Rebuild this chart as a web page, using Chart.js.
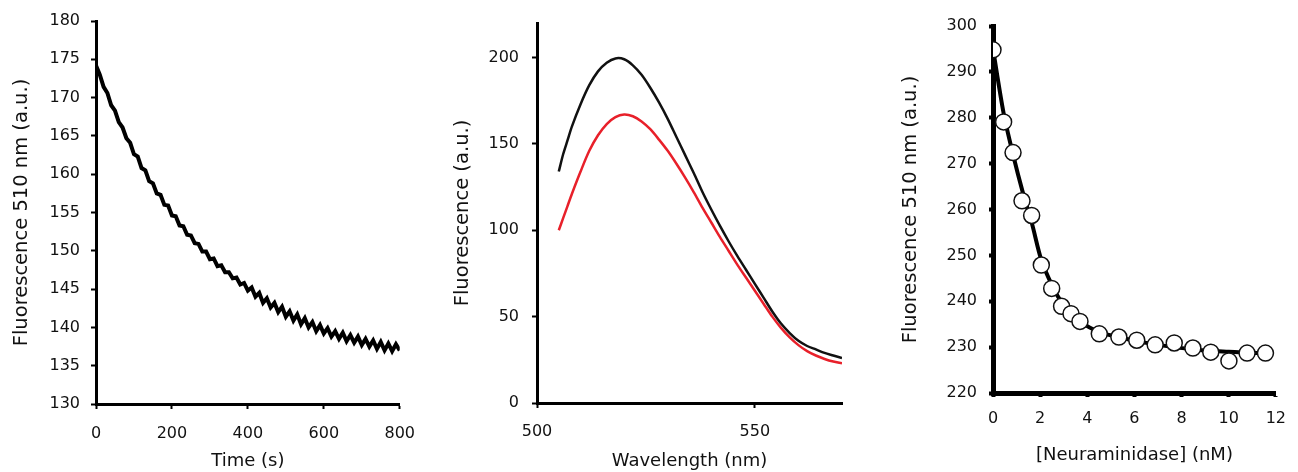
<!DOCTYPE html>
<html>
<head>
<meta charset="utf-8">
<script src="https://cdn.jsdelivr.net/npm/chart.js"></script>
<style>
body {margin:0; background:#fff; width:1298px; height:472px; position:relative; overflow:hidden}
canvas {position:absolute; top:0}
</style>
</head>
<body>
<canvas id="graf1" width="430" height="472" style="left:0px"></canvas>
<canvas id="graf2" width="440" height="472" style="left:430px"></canvas>
<canvas id="graf3" width="428" height="472" style="left:870px"></canvas>
<script>
// panel 1: cinetica a 510 nm
const tiempo = [0,10,20,30,40,50,60,70,80,90,100,110,120,130,140,150,160,170,180,190,
  200,210,220,230,240,250,260,270,280,290,300,310,320,330,340,350,360,370,380,390,
  400,410,420,430,440,450,460,470,480,490,500,510,520,530,540,550,560,570,580,590,
  600,610,620,630,640,650,660,670,680,690,700,710,720,730,740,750,760,770,780,790,800]
const fluorTiempo = [174.2,173.0,171.4,170.6,169.0,168.3,166.8,166.1,164.7,164.1,
  162.6,162.3,160.8,160.5,159.1,158.8,157.5,157.3,156.0,155.9,
  154.6,154.5,153.3,153.2,152.1,152.0,151.0,150.9,149.9,149.9,
  148.9,149.0,148.0,148.1,147.2,147.2,146.4,146.5,145.6,145.8,
  144.8,145.2,144.0,144.5,143.2,143.8,142.6,143.2,142.0,142.7,
  141.4,142.1,140.9,141.7,140.4,141.2,140.0,140.7,139.5,140.3,
  139.2,139.9,138.8,139.5,138.5,139.3,138.2,139.0,138.0,138.8,
  137.7,138.5,137.5,138.3,137.2,138.1,137.0,137.9,136.9,137.8,137.0]

// panel 2: espectros de emision
const longOnda = [505,506,507,508,510,512,514,516,518,520,522,524,526,528,530,532,534,536,538,540,
  542,544,546,548,550,552,554,556,558,560,562,564,566,568,570]
const espectroNegro = [134,144,152,160,173,184,192,197,199.5,199,195.5,190,182.5,174,164.5,154,143.5,133,122,112,
  102.5,93.5,85,77,69,61,53,46,40.5,36,33,31,29,27.5,26]
const espectroRojo = [100,107,114,121,134,146,155,161.5,165.5,167,166,163,158.5,152.5,146,138.5,130.5,122,113,104.5,
  96,88,80,72.5,65,57.5,50,43.5,38,33.5,30,27.5,25.5,24,23]

// panel 3: titulacion con neuraminidasa
const concNeu = [0,0.45,0.85,1.23,1.64,2.05,2.49,2.91,3.31,3.69,4.51,5.34,6.10,6.88,7.69,8.48,9.24,10.01,10.78,11.56]
const fluorNeu = [294.8,279.1,272.4,261.9,258.7,247.9,242.8,238.9,237.3,235.6,232.9,232.2,231.5,230.5,230.9,229.8,228.9,227.0,228.7,228.7]
const concAjuste = [0,0.45,0.85,1.25,1.65,2.05,2.5,2.9,3.3,3.7,4.5,5.3,6.1,6.9,7.7,8.5,9.2,10,10.8,11.56]
const fluorAjuste = [295,281,272,264,257,249,243.5,239.8,237.3,235.5,233.3,232.2,231.3,230.6,230.0,229.5,229.2,229.0,228.8,228.7]

const fuente = "'DejaVu Sans', sans-serif"
const colorTexto = "#111"

function puntos (xs, ys) {
    return xs.map((x, i) => ({x: x, y: ys[i]}))
}

function escala (o) {
    return {
        type: "linear",
        min: o.min,
        max: o.max,
        border: {color: "#000", width: o.borde},
        grid: {drawOnChartArea: false, tickLength: o.tick, tickColor: "#000", tickWidth: o.borde - 1},
        ticks: {stepSize: o.paso, padding: o.pad, color: colorTexto, font: {family: fuente, size: 16}},
        title: {display: true, text: o.titulo, color: colorTexto,
            font: {family: fuente, size: o.tamTitulo}, padding: {top: o.padTitulo, bottom: o.padTitulo}},
        afterFit: (s) => {
            if (s.isHorizontal()) s.height = o.tam
            else s.width = o.tam
        },
        afterBuildTicks: (s) => {
            s.ticks = s.ticks.filter((t) => t.value <= o.ultimo)
        }
    }
}

function crearGrafica (id, datasets, ejeX, ejeY, padding) {
    const config = {
        type: "line",
        data: {datasets},
        options: {
            responsive: false,
            animation: false,
            layout: {padding},
            plugins: {legend: {display: false}, tooltip: {enabled: false}},
            scales: {x: escala(ejeX), y: escala(ejeY)}
        }
    }
    new Chart(document.getElementById(id), config)
}

crearGrafica("graf1", [
    {data: puntos(tiempo, fluorTiempo), borderColor: "#000", borderWidth: 4, pointRadius: 0, tension: 0}
], {min: 0, max: 800, paso: 200, ultimo: 800, borde: 3, tick: 5, pad: 15, tam: 68,
    titulo: "Time (s)", tamTitulo: 18, padTitulo: 0},
{min: 130, max: 180, paso: 5, ultimo: 180, borde: 3, tick: 5, pad: 11, tam: 96,
    titulo: "Fluorescence 510 nm (a.u.)", tamTitulo: 19.5, padTitulo: 10},
{left: 0, right: 30, top: 21, bottom: 0})

crearGrafica("graf2", [
    {data: puntos(longOnda, espectroNegro), borderColor: "#111", borderWidth: 2.5, pointRadius: 0, tension: 0.3},
    {data: puntos(longOnda, espectroRojo), borderColor: "#e8202a", borderWidth: 2.5, pointRadius: 0, tension: 0.3}
], {min: 500, max: 570, paso: 50, ultimo: 550, borde: 3, tick: 5, pad: 14, tam: 69,
    titulo: "Wavelength (nm)", tamTitulo: 18, padTitulo: 0},
{min: 0, max: 220, paso: 50, ultimo: 200, borde: 3, tick: 5, pad: 13, tam: 107,
    titulo: "Fluorescence (a.u.)", tamTitulo: 19.5, padTitulo: 21},
{left: 0, right: 28, top: 23, bottom: 0})

crearGrafica("graf3", [
    {data: puntos(concNeu, fluorNeu), showLine: false, pointRadius: 8, pointBackgroundColor: "#fff",
        pointBorderColor: "#111", pointBorderWidth: 1.5, order: 0},
    {data: puntos(concAjuste, fluorAjuste), borderColor: "#000", borderWidth: 4, pointRadius: 0, tension: 0.3, order: 1}
], {min: 0, max: 12, paso: 2, ultimo: 12, borde: 5, tick: 4, pad: 12, tam: 79,
    titulo: "[Neuraminidase] (nM)", tamTitulo: 18, padTitulo: 6},
{min: 220, max: 300, paso: 10, ultimo: 300, borde: 5, tick: 4, pad: 12, tam: 123,
    titulo: "Fluorescence 510 nm (a.u.)", tamTitulo: 19.5, padTitulo: 29},
{left: 0, right: 12, top: 26, bottom: 0})
</script>
</body>
</html>
